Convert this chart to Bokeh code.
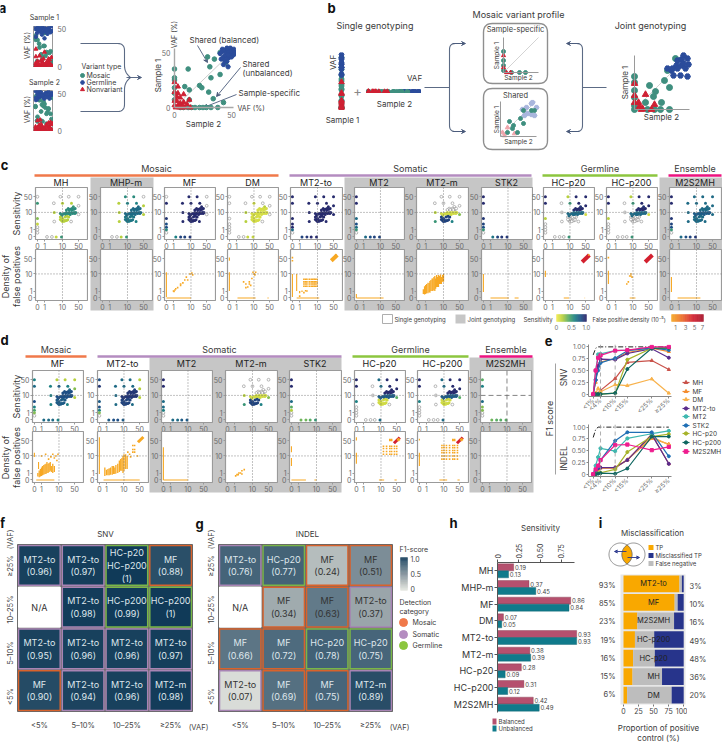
import numpy as np
from bokeh.core.properties import value
from bokeh.embed import file_html
from bokeh.layouts import column
from bokeh.models import (Arrow, ColumnDataSource, FactorRange, FixedTicker, LinearColorMapper, Range1d, Span, VeeHead)
from bokeh.plotting import figure
from bokeh.resources import INLINE
from bokeh.transform import dodge

FONT = "Inter"
INK = "#3a3a3a"
TICK = "#6b6b6b"
FRAME = "#9a9a9a"
C_MOS, C_GER, C_NON = "#3f8f7f", "#2b4c9b", "#cf2033"
ORANGE, PURPLE, GREEN, PINK = "#f0794a", "#b48cc0", "#8cc63f", "#ec1380"
SENS_COLS = ["#f2ea4e", "#b5cf3e", "#58ad66", "#1f8284", "#1e5287", "#2b1f66"]
FP_COLS = ["#f9d24a", "#f7a823", "#ec6a2a", "#d3202f", "#a5122a"]

# ---------- panel a data: (sample 2 VAF, sample 1 VAF) ----------
a_mos_x = [0,0,0,0,0,0,12,9,13,29,31,32,40,22,30,13,24,34,43,40,45,35,5,8,12,15,18,22,25,28,32,38]
a_mos_y = [35,27,25,18,13,7,35,19,16,46,37,27,30,20,14,7,18,8,4.5,50,41,44,0,0,0,0,0,0,0,0,0,0]
a_ger_x = [40,42,44,45,46,47,48,49,50,51,52,43,45,47,49,41,44,46,48,50,43,47,52,42,46,49,53,47]
a_ger_y = [49,51,52,48,50,53,51,49,52,50,53,46,47,45,46,44,43,42,47,46,39,37,48,53,54,54,50,48]
a_non_x = [0,3,0,5,2,8,13,8,3,0,5,2,7,11,0,1,4,6,9,14,3]
a_non_y = [23,19,14,9,6,12,7,5,2,6,4,10,2,3,2,0,0,0,0,0,13]

# ---------- panel b data ----------
b_mos_x = [0,0,0,0,0,15,21,30,35,33,41,11,19,27,26,35,13,20,0]
b_mos_y = [33,27,19,12,4,24,18,29,22,39,51,7,13,7,0,0,0,0,0]
b_ger_x = [49,43,47,53,54,42,47,51,33,37,39,46,53,38,49,43]
b_ger_y = [54,49,50,51,45,44,44,41,41,39,34,34,33,41,46,41]
b_non_x = [0,0,0,11,5,8,20,4,17,7]
b_non_y = [26,14,7,15,3,1,5,7,0,0]
b1_mos_x = [0,0,0,0,8,16,22]
b1_mos_y = [21,12,7,2,0,0,0]
b1_non_x = [0,0,3,7]
b1_non_y = [17,5,0,0]
b2_mos_x = [7,12,17,13,20,23,9,31,34,23]
b2_mos_y = [4,8,4,11,18,13,15,26,26,26]
b2_ger_x = [22,26,31,32,36,34,31,27,24]
b2_ger_y = [27,29,33,34,29,21,22,23,21]
b2_non_x = [7,2,4,14]
b2_non_y = [9,4,1,3]

# ---------- sensitivity truth set (VAF sample 2, VAF sample 1) ----------
L_y = [50, 26, 5, 2.5, 1.6, 1, 0.5]
B_x = [1.5, 3, 5, 9]
U_x = [8, 19, 50, 3.8, 10, 25, 50, 4, 30, 50, 4, 24]
U_y = [50, 50, 50, 26, 26, 26, 20, 10, 18, 8, 3.5, 3.5]
Ct_x = [18, 22, 26, 32, 15, 27, 20, 36]
Ct_y = [15, 14, 15, 14, 13, 13, 13, 15]
Ch_x = [8, 10, 12, 14, 15, 18, 20, 22, 25, 28, 32, 38, 16, 35, 9]
Ch_y = [9, 8, 9, 8, 10, 9, 10, 8, 10, 9, 10, 10, 8, 9, 7]
Cl_x = [8, 10, 13, 9, 11, 13, 15, 10, 12, 17, 19, 16, 8]
Cl_y = [6, 5, 6, 4, 4, 4, 4, 3.5, 3.6, 4.3, 6, 6.5, 4.5]

# Sensitivity per variant group: L, B, U, then Ct/Ch/Cl (0 = missed; None = not drawn)
c_sens = {
 "MH":      ([0,.5,.3,.15,0,0,0], [0,0,.15,.5], [0,0,0,0,.2,.2,0,.2,.5,0,0,0], (.55,.55,.2)),
 "MHP-m":   ([], [0,0,.2,.5], [.55,.55,0,.2,.6,.6,.2,.2,.7,.2,.2,.6], (.7,.7,.65)),
 "MF":      ([0,.95,.9,.8,.8,.55,0], [.6,.85,.85,.9], [.95,.95,0,.95,.95,.95,0,.95,.95,0,.95,.95], (.95,.95,.95)),
 "DM":      ([0,0,0,0,0,0,0], [0,0,.15,.15], [0,0,0,0,.15,0,0,.2,.2,0,.2,0], (.1,.1,.1)),
 "MT2-to":  ([.95,.95,.95,.95,.95,.7,0], [.85,.9,.95,.95], [.95]*12, (.95,.95,.95)),
 "MT2":     ([.95,.95,.7,.8,.7,.5,0], [.7,.8,.85,.85], [], (None,None,None)),
 "MT2-m":   ([], [], [0,0,0,0,0,0,0,.2,0,.3,.5,.6], (0,.12,.85)),
 "STK2":    ([.95,.95,.9,.85,.8,.5,0], [.65,.85,.9,.9], [], (None,None,None)),
 "HC-p20":  ([.95,.95,.2,0,0,0,0], [0,0,0,.5], [.2,.95,.95,0,.5,.95,.95,0,.9,.1,0,0], (.95,.7,0)),
 "HC-p200": ([.95,.95,.2,0,0,0,0], [0,0,0,.5], [.2,.95,.95,0,.5,.95,.95,0,.9,.1,0,0], (.95,.7,0)),
 "M2S2MH":  ([.95,.95,.9,.85,.8,.5,0], [.7,.8,.85,.9], [.7]*12, (.7,.75,.7)),
}
d_sens = {
 "MF":      ([.6,.7,.8,.6,.45,.3,0], [.7,.7,.7,.6], [.2,.2,.2,.6,.75,.6,.3,.6,.7,.2,.6,.6], (.8,.8,.75)),
 "MT2-to":  ([.8,.9,.75,.8,.6,.3,0], [.75,.8,.8,.75], [.7,.7,.2,.7,.7,.7,.2,.7,.85,.2,.7,.7], (.9,.9,.85)),
 "MT2":     ([.95,.95,.7,.7,.6,0,0], [.7,.7,.75,.75], [], (None,None,None)),
 "MT2-m":   ([], [], [0,0,0,0,0,0,0,.2,0,.3,.5,.6], (0,.12,.85)),
 "STK2":    ([.95,.95,.7,.4,.2,0,0], [.35,.35,.4,.5], [], (None,None,None)),
 "HC-p20":  ([.95,.95,.6,0,0,0,0], [0,0,0,.7], [.7,.95,.95,0,.7,.95,.95,0,.95,.4,0,0], (.95,.75,.12)),
 "HC-p200": ([.95,.95,.6,0,0,0,0], [0,0,0,.7], [.7,.95,.95,0,.7,.95,.95,0,.95,.4,0,0], (.95,.75,.12)),
 "M2S2MH":  ([.4,.6,.7,.3,.3,0,0], [.35,.4,.4,.4], [], (None,None,None)),
}

# ---------- false positive marks ----------
# h: (y, x0, x1), v: (x, y0, y1), d: (v0, v1, colour level, width), s: streak (x, y0, y1), p: points
c_fp = {
 "MH": dict(),
 "MHP-m": dict(),
 "MF": dict(h=[(0,0,10)], v=[(0,0.1,12)], p=[(1,1),(1.3,1.2),(2,1.8),(1.5,1.5),(3,3),(4,3.5),(5,5),(6,7),(7,5),(9,10),(11,11),(12,9),(3,2.5),(1.1,.9)]),
 "DM": dict(h=[(0,1.2,12),(0,40,45)], v=[(0,1,12),(0,40,55)], p=[(4,3),(6,3),(5,2),(3,4),(8,6),(10,10),(11,9),(12,12),(9,12),(7,2.5),(6,4),(4,1.8)]),
 "MT2-to": dict(h=[(0,.5,12)], v=[(0,.1,10),(.5,1,10)], d=[(40,72,1,4)],
   s=[(1,.6,1),(1.5,.8,1.1),(2.5,.9,1.2)],
   p=[(x,y) for x in [2,2.5,3,4,5,6,7,8,9.5] for y in [2.2,3,4,5.5]]+[(0,40),(0,55),(2,.7),(3,1),(62,72),(1,.2)]),
 "MT2": dict(h=[(0,0,14)], v=[(0,0,.5)]),
 "MT2-m": dict(s=[(.6,.5,1.4),(.8,.4,2.2),(1,.5,2.6),(1.2,.6,3),(1.5,.6,3.6),(1.8,.8,3.5),(2,.7,4.5),(2.3,1,5),(2.7,1,6),(3,1,6),(3.4,1.2,7),(3.8,1,8),(4.2,1.5,6),(4.7,2,9),(5.2,2,7),(5.8,2,9),(6.5,3,8),(7.2,3,9.5),(8,3,7),(9,4,9),(10,4,10)]),
 "STK2": dict(h=[(0,1,11),(0,20,30)], v=[(0,.8,10)]),
 "HC-p20": dict(h=[(0,5,9),(0,45,47)], v=[(0,7,14)], d=[(35,72,3,4)], p=[(68,72)]),
 "HC-p200": dict(h=[(0,7,13)], v=[(0,3,14)], d=[(35,72,3,4)], p=[(7,8),(8,10),(9,7),(6,4),(5,3),(8,8),(0,55)]),
 "M2S2MH": dict(h=[(0,.8,15)], v=[(0,.8,7)]),
}
d_fp = {
 "MF": dict(h=[(0,.2,6)], s=[(.4,.4,1),(.6,.3,1.6),(.8,.4,2),(1,.5,2.5),(1.2,.6,3),(1.5,.7,3.5),(1.8,.8,3.8),(2.1,.8,4),(2.4,1,5),(2.8,1,4),(3.2,1.2,4.5),(3.7,1.5,5),(4.2,1.2,3),(5,1,4),(6,1.2,3)],
   v=[(0,9,14),(.5,2,5)], p=[(1,10),(2,12),(4,9),(5,12),(7,10),(9,12),(6,8),(3,7),(8,6)]),
 "MT2-to": dict(h=[(0,.5,50)], v=[(0,.8,70)], d=[(42,72,1,3)],
   s=[(.7,.5,2.5),(1,.6,1.8),(1.3,.6,2),(1.6,.6,2.2),(2,.7,2.5),(2.5,.7,3),(3,.8,3),(3.5,.8,2.5),(4,.9,3.5),(5,1,4),(6,1.2,6),(7,1.5,7),(8,1.5,8),(9,1,10),(10,1.5,12),(12,2,12),(14,2,10)],
   p=[(25,15),(30,15),(25,20),(30,20),(25,30),(30,30),(18,12),(20,9),(15,15),(40,10)]),
 "MT2": dict(h=[(0,0,10)], v=[(0,0,25)]),
 "MT2-m": dict(p=[(1.5,.7),(2,1),(2.5,1),(3,.8),(3,1.5),(1.2,.5),(1.8,.7),(4,1.8)]),
 "STK2": dict(h=[(0,0,3),(0,8,10)], v=[(0,3,8),(0,15,28)]),
 "HC-p20": dict(h=[(0,8,14),(0,40,50)], v=[(0,4,14),(0,50,70)], d=[(38,68,3,3)],
   p=[(x,y) for x in [13,18,25,30,40,50] for y in [12,16,22,28]]+[(25,55),(30,55),(25,50),(30,50),(28,52),(55,55),(60,60),(65,55),(60,50)]),
 "HC-p200": dict(h=[(0,6,14),(0,40,50)], v=[(0,3,14),(0,50,60)], d=[(38,68,3,3)],
   p=[(x,y) for x in [8,10,13,18,25,30,40] for y in [7,10,14,18,24,30]]+[(25,55),(30,55),(25,50),(30,50),(28,52),(55,55),(60,60),(65,55),(60,50)]),
 "M2S2MH": dict(),
}

# ---------- panel e ----------
e_ticks = [1, 4, 10, 15, 25, 32]
e_labels = ["<1%", "<4%", "<10%", "<15%", "<25%", "≥25%"]
e_x = [1, 2, 3, 4, 10, 15, 25, 32]
e_names = ["MH", "MF", "DM", "MT2-to", "MT2", "STK2", "HC-p20", "HC-p200", "M2S2MH"]
e_cols = ["#c9524a", "#f48c2d", "#f8b24c", "#5b2c8c", "#3fb8b0", "#1f6fb5", "#a7b32a", "#0e6660", "#ee1c8e"]
e_mark = ["triangle", "triangle", "triangle", "hex", "circle", "hex", "hex", "hex", "square"]
snv = dict(zip(e_names, [
 [0,0,.01,.08,.33,.67,.71,.52], [0,.25,.6,.68,.75,.88,.97,.90], [0,.02,.12,.05,.2,.18,.32,.02],
 [0,.3,.6,.74,.73,.86,.96,.77], [0,.5,.84,.85,.92,.93,.97,.97], [0,.3,.5,.66,.76,.92,.98,.93],
 [0,0,0,0,.02,.73,.97,.98], [0,0,0,0,.02,.53,.97,.98], [0,.5,.77,.82,.92,.93,1,1]]))
indel = dict(zip(e_names, [
 [0,.02,.12,.13,.14,.30,.85,.22], [0,.02,.1,.14,.13,.31,.76,.64], [0,.01,.1,.13,.14,.3,.8,.62],
 [0,.02,.12,.14,.14,.30,.84,.22], [0,.18,.36,.55,.49,.76,.86,.92], [0,.05,.15,.3,.71,.89,.89,.38],
 [0,0,.02,.03,.1,.47,.80,.85], [0,0,.01,.02,.01,.12,.80,.80], [0,.1,.18,.3,.62,.63,.51,.58]]))
ideal_x = [1, 2, 3, 4, 10, 15, 25, 32]
ideal_snv = [.83, .97, 1, 1, 1, 1, 1, 1]
ideal_indel = [.78, .95, 1, 1, 1, 1, 1, 1]

# ---------- panels f, g ----------
vaf_bins = ["<5%", "5–10%", "10–25%", "≥25%"]
f_tool = [["MF","MT2-to","MT2-to","MT2-m"],["MT2-to","MT2-to","MT2-to","MT2-to"],["N/A","MT2-to","HC-p200","HC-p200"],["MT2-to","MT2-to","HC-p20\nHC-p200","MF"]]
f_val = [[.90,.94,.96,.98],[.95,.96,.96,.97],[None,.98,.99,1],[.96,.97,1,.88]]
f_lbl = [["0.90","0.94","0.96","0.98"],["0.95","0.96","0.96","0.97"],["","0.98","0.99","1"],["0.96","0.97","1","0.88"]]
f_cat = [["m","s","s","s"],["s","s","s","s"],["n","s","g","g"],["s","s","g","m"]]
g_tool = [["MT2-to","MF","MF","MT2-m"],["MF","MF","HC-p20","HC-p20"],["N/A","MF","MF","MT2-to"],["MT2-to","HC-p20","MF","MF"]]
g_val = [[.07,.69,.75,.89],[.66,.72,.78,.75],[None,.34,.63,.37],[.76,.77,.24,.51]]
g_lbl = [["0.07","0.69","0.75","0.89"],["0.66","0.72","0.78","0.75"],["","0.34","0.63","0.37"],["0.76","0.77","0.24","0.51"]]
g_cat = [["s","m","m","s"],["m","m","g","g"],["n","m","m","s"],["s","g","m","m"]]
CAT_COL = {"m": "#d9622b", "s": "#a884b4", "g": "#7ab648", "n": "#ffffff"}

# ---------- panel h ----------
h_tools = ["MH", "MHP-m", "MF", "DM", "MT2-to", "MT2-m", "HC-p20", "HC-p200", "M2S2MH"]
h_bal = [.19, .37, .86, .07, .93, .38, .28, .31, .42]
h_unb = [.13, .45, .84, .05, .93, .39, .09, .12, .49]

# ---------- panel i ----------
i_tools = ["MT2-to", "MF", "M2S2MH", "HC-p200", "HC-p20", "MH", "DM"]
i_tp = [93, 85, 23, 19, 16, 15, 6]
i_fn = [4, 5, 61, 32, 36, 49, 74]
i_mis = [3, 10, 16, 49, 48, 36, 20]

# =====================================================================
figs = []


def place(p, left, top):
    p.styles = {"position": "absolute", "left": f"{left}px", "top": f"{top}px"}
    p.frame_align = False
    figs.append(p)
    return p


def lg(v):
    return np.log10(1 + np.asarray(v, dtype=float))


def lg1(v):
    return [float(lg(v))]


def mk(x0, x1, y0, y1, xr, yr, ml=0, mr=0, mt=0, mb=0, bg=None, **kw):
    p = figure(width=int(x1 - x0 + ml + mr), height=int(y1 - y0 + mt + mb), x_range=xr, y_range=yr,
               min_border_left=ml, min_border_right=mr, min_border_top=mt, min_border_bottom=mb,
               output_backend="svg", toolbar_location=None, **kw)
    p.border_fill_color = None
    p.background_fill_color = bg
    p.grid.visible = False
    p.outline_line_color = None
    place(p, x0 - ml, y0 - mt)
    return p


bg = figure(width=722, height=743, x_range=Range1d(0, 722), y_range=Range1d(743, 0), min_border=0,
            output_backend="svg", toolbar_location=None, x_axis_type=None, y_axis_type=None)
bg.grid.visible = False
bg.outline_line_color = None
bg.border_fill_color = None
bg.background_fill_color = None
place(bg, 0, 0)


def tx(x, y, s, size=8, color=INK, align="left", angle=0, bold=False):
    bg.text(x=[x], y=[y], text=[s], text_font=value(FONT), text_font_size=f"{size}px", text_color=color,
            text_align=align, text_baseline="middle", angle=angle,
            text_font_style="bold" if bold else "normal")


def rpath(pts, r, n=8):
    out = [pts[0]]
    for a, b, c in zip(pts, pts[1:], pts[2:]):
        a, b, c = map(lambda q: np.array(q, float), (a, b, c))
        u = (a - b) / max(np.linalg.norm(a - b), 1e-6)
        w = (c - b) / max(np.linalg.norm(c - b), 1e-6)
        s = b + u * r
        e = b + w * r
        for t in np.linspace(0, 1, n):
            out.append(tuple((1 - t) ** 2 * s + 2 * t * (1 - t) * b + t * t * e))
    out.append(pts[-1])
    return [float(q[0]) for q in out], [float(q[1]) for q in out]


def pline(pts, r=5, color="#5c6b85", width=1.1):
    xs, ys = rpath(pts, r)
    bg.line(xs, ys, line_color=color, line_width=width)


def arrow(x0, y0, x1, y1, color="#4a5a7a", size=4, width=0.9):
    bg.add_layout(Arrow(end=VeeHead(size=size, line_color=color, line_width=width, fill_color=color),
                        x_start=x0, y_start=y0, x_end=x1, y_end=y1, line_color=color, line_width=width))


def grad(x0, x1, y0, y1, cols, vertical=False, n=40):
    t = np.linspace(0, 1, n + 1)
    idx = np.linspace(0, 1, len(cols))
    rgb = np.array([[int(c[i:i + 2], 16) for i in (1, 3, 5)] for c in cols], float)
    cc = ["#%02x%02x%02x" % tuple(int(np.interp(v, idx, rgb[:, k])) for k in range(3)) for v in t[:-1]]
    if vertical:
        bg.quad(left=[x0] * n, right=[x1] * n, top=y1 - t[:-1] * (y1 - y0), bottom=y1 - t[1:] * (y1 - y0), fill_color=cc, line_color=cc, line_width=0.3)
    else:
        bg.quad(left=x0 + t[:-1] * (x1 - x0), right=x0 + t[1:] * (x1 - x0), top=[y0] * n, bottom=[y1] * n, fill_color=cc, line_color=cc, line_width=0.3)


# --------------------- panel letters ---------------------
for s, x, y in [("a", 2, 7), ("b", 331, 7), ("c", 4, 164), ("d", 4, 339), ("e", 548, 340), ("f", 2, 522), ("g", 199, 523), ("h", 453, 522), ("i", 600, 522)]:
    tx(x, y, s, 13, "#111111", "center", bold=True)

# --------------------- panel a ---------------------
jit = [.12, .55, .3, .8, .45, .9, .2, .65, .38, .75, .1, .5, .28, .85, .6, .18, .7, .42, .95, .33]


def strip(y0, y1, vm, vg, vn):
    p = mk(33, 53, y0, y1, Range1d(0, 1), Range1d(-1.3, 52.6), bg="white")
    p.axis.visible = False
    p.outline_line_color = FRAME
    for vals, col, mrk, sz in [(vm, C_MOS, "circle", 3.8), (vg, C_GER, "hex", 3.8), (vn, C_NON, "triangle", 4)]:
        xx = [jit[i % len(jit)] for i in range(len(vals))]
        p.scatter(xx, vals, marker=mrk, size=sz, fill_color=col, line_color=col)
    return p


strip(26, 67, a_mos_y, a_ger_y, a_non_y + [2, 1, 3, 0.5, 1.5, 4, 5, 8, 10, 1, 3])
strip(90, 131, a_mos_x, a_ger_x, a_non_x + [2, 1, 3, 0.5, 1.5, 4, 6, 8, 10, 1, 3])
tx(44, 17, "Sample 1", 7, align="center")
tx(44, 82, "Sample 2", 7, align="center")
for y in (45, 109):
    tx(27, y, "VAF (%)", 7, angle=np.pi / 2, align="center")
for y, s in [(28, "50"), (66, "0"), (93, "50"), (130, "0")]:
    tx(57, y, s, 7, TICK)
tx(81, 66, "Variant type", 7)
for y, s, col, m in [(75, "Mosaic", C_MOS, "circle"), (82, "Germline", C_GER, "hex"), (89, "Nonvariant", C_NON, "triangle")]:
    bg.scatter([82], [y], marker=m, size=4, fill_color=col, line_color=col)
    tx(86, y, s, 7)
pline([(80, 43), (124, 43), (124, 72), (130, 77)], 7)
pline([(80, 111), (124, 111), (124, 82), (130, 77)], 7)
arrow(126, 77, 141, 77)


def mini(x0, x1, y0, y1, ox, oy, scale=1.0, xmax=None, ymax=None, lw=1.0, col="#9a9a9a"):
    p = mk(x0, x1, y0, y1, Range1d((x0 - ox) / scale, (x1 - ox) / scale), Range1d((oy - y1) / scale, (oy - y0) / scale))
    p.xaxis.fixed_location = 0
    p.yaxis.fixed_location = 0
    for ax, top in ((p.xaxis[0], xmax), (p.yaxis[0], ymax)):
        ax.ticker = FixedTicker(ticks=[])
        ax.axis_line_color = col
        ax.axis_line_width = lw
        ax.major_label_text_font_size = "0px"
        ax.bounds = (0, top)
    return p


pa = mk(168, 236, 30, 113, Range1d(-5.26, 54.4), Range1d(-5.45, 70))
pa.xaxis.fixed_location = 0
pa.yaxis.fixed_location = 0
for ax, top in [(pa.xaxis[0], 52), (pa.yaxis[0], 54)]:
    ax.ticker = FixedTicker(ticks=[])
    ax.bounds = (0, top)
    ax.axis_line_color = "#a8a8a8"
    ax.axis_line_width = 1.4
    ax.major_label_text_font_size = "0px"
pa.line([0, 50], [0, 50], line_color="#cccccc", line_width=1)
pa.scatter(a_mos_x, a_mos_y, marker="circle", size=4.6, fill_color=C_MOS, line_color=C_MOS)
pa.scatter(a_ger_x, a_ger_y, marker="hex", size=4.6, fill_color=C_GER, line_color=C_GER)
pa.scatter(a_non_x, a_non_y, marker="triangle", size=5, fill_color=C_NON, line_color=C_NON)
for x, y, s, al in [(170, 52, "50", "right"), (170, 107, "0", "right"), (174, 114, "0", "center"), (231, 114, "50", "center")]:
    tx(x, y, s, 7, TICK, al)
tx(174, 34, "VAF (%)", 7, angle=np.pi / 2, align="center")
tx(157, 75, "Sample 1", 8, angle=np.pi / 2, align="center")
tx(203, 123, "Sample 2", 8, align="center")
tx(237, 108, "VAF (%)", 7)
tx(189, 39, "Shared (balanced)", 8)
tx(242, 63, "Shared", 8)
tx(242, 72, "(unbalanced)", 8)
tx(238, 92, "Sample-specific", 8)
arrow(197, 45, 207, 62)
arrow(240, 67, 216, 96)
arrow(236, 94, 203, 107)

# --------------------- panel b ---------------------
tx(336, 25, "Single genotyping", 9)
tx(518, 14, "Mosaic variant profile", 9, align="center")
tx(650, 25, "Joint genotyping", 9, align="center")
for y0, y1 in [(23, 83), (88, 149)]:
    xs, ys = rpath([(495, y0), (547, y0), (547, y1), (483, y1), (483, y0), (495, y0)], 9)
    bg.line(xs, ys, line_color="#8f8f8f", line_width=1.4)
pv = mk(336, 346, 52, 110, Range1d(-1, 1), Range1d(-3, 56))
pv.axis.visible = False
ph = mk(366, 421, 84, 93, Range1d(-2, 56), Range1d(-1, 1))
ph.axis.visible = False
for vals, col, mrk, sz in [(b_mos_y, C_MOS, "circle", 5), (b_ger_y, C_GER, "hex", 5), (b_non_y, C_NON, "triangle", 5.5)]:
    pv.scatter([0] * len(vals), vals, marker=mrk, size=sz, fill_color=col, line_color=col)
for vals, col, mrk, sz in [(b_ger_x, C_GER, "hex", 5), (b_mos_x, C_MOS, "circle", 5), (b_non_x, C_NON, "triangle", 5.5)]:
    ph.scatter(vals, [0] * len(vals), marker=mrk, size=sz, fill_color=col, line_color=col)
tx(332, 62, "VAF", 8, angle=np.pi / 2, align="center")
tx(342, 119, "Sample 1", 8, align="center")
tx(357, 90, "+", 13, "#888888", "center")
tx(414, 77, "VAF", 8, align="center")
tx(394, 103, "Sample 2", 8, align="center")
pline([(424, 87), (449, 87)], 5)
pline([(464, 43), (449, 43), (449, 131), (464, 131)], 6)
arrow(452, 43, 465, 43)
arrow(452, 131, 465, 131)
pline([(606, 87), (582, 87)], 5)
pline([(567, 43), (582, 43), (582, 131), (567, 131)], 6)
arrow(579, 43, 566, 43)
arrow(579, 131, 566, 131)

m1 = mini(500, 540, 35, 75, 503, 72, xmax=35, ymax=35)
m1.line([0, 35], [0, 35], line_color="#c8c8c8", line_width=0.8)
m1.scatter(b1_mos_x, b1_mos_y, marker="circle", size=4, fill_color=C_MOS, line_color=C_MOS)
m1.scatter(b1_non_x, b1_non_y, marker="triangle", size=4, fill_color=C_NON, line_color=C_NON)
m2 = mini(498, 540, 99, 139, 500, 136, xmax=36, ymax=35)
m2.line([0, 35], [0, 35], line_color="#c8c8c8", line_width=0.8)
m2.scatter(b2_non_x, b2_non_y, marker="triangle", size=4.5, fill_color="#eea4ab", line_color="#eea4ab")
m2.scatter(b2_ger_x, b2_ger_y, marker="hex", size=5, fill_color="#a9b6dd", line_color="#a9b6dd")
m2.scatter(b2_mos_x, b2_mos_y, marker="circle", size=4, fill_color=C_MOS, line_color=C_MOS)
tx(515, 29, "Sample-specific", 7.5, align="center")
tx(515, 95, "Shared", 7.5, align="center")
tx(496, 55, "Sample 1", 6.5, angle=np.pi / 2, align="center")
tx(496, 119, "Sample 1", 6.5, angle=np.pi / 2, align="center")
tx(518, 77, "Sample 2", 6.5, align="center")
tx(518, 141, "Sample 2", 6.5, align="center")
mj = mini(630, 692, 50, 113, 634, 109, xmax=55, ymax=54)
mj.line([0, 50], [0, 50], line_color="#c8c8c8", line_width=0.8)
mj.scatter(b_mos_x, b_mos_y, marker="circle", size=6, fill_color=C_MOS, line_color=C_MOS)
mj.scatter(b_ger_x, b_ger_y, marker="hex", size=6, fill_color=C_GER, line_color=C_GER)
mj.scatter(b_non_x, b_non_y, marker="triangle", size=6.5, fill_color=C_NON, line_color=C_NON)
tx(624, 82, "Sample 1", 8, angle=np.pi / 2, align="center")
tx(661, 116, "Sample 2", 8, align="center")

# --------------------- panels c and d ---------------------
sens_map = LinearColorMapper(palette=[
    "#%02x%02x%02x" % tuple(int(np.interp(t, np.linspace(0, 1, 6), [int(c[i:i + 2], 16) for c in SENS_COLS])) for i in (1, 3, 5))
    for t in np.linspace(0, 1, 64)], low=0, high=1)


def small(x0, x1, y0, y1, dash="1 2"):
    p = mk(x0, x1, y0, y1, Range1d(-0.08, 2.08), Range1d(-0.11, 2.1), ml=14, mr=1, mt=1, mb=11, bg="white")
    p.outline_line_color = FRAME
    p.outline_line_width = 1.2
    loc = [float(v) for v in lg([0, 1, 10, 50])]
    ov = dict(zip(loc, ["0", "1", "10", "50"]))
    for ax in (p.xaxis[0], p.yaxis[0]):
        ax.ticker = FixedTicker(ticks=loc)
        ax.major_label_overrides = ov
        ax.axis_line_color = None
        ax.major_tick_line_color = FRAME
        ax.major_tick_in = 0
        ax.major_tick_out = 2
        ax.minor_tick_line_color = None
        ax.major_label_standoff = 1
        ax.major_label_text_font = FONT
        ax.major_label_text_font_size = "7px"
        ax.major_label_text_color = TICK
    ten = float(lg(10))
    p.add_layout(Span(location=ten, dimension="width", line_color="#666666", line_dash=dash, line_width=0.8))
    p.add_layout(Span(location=ten, dimension="height", line_color="#666666", line_dash=dash, line_width=0.8))
    return p


def draw_sens(p, cfg):
    L, B, U, (ct, ch, cl) = cfg
    xs, ys, ss = [], [], []
    for i, s in enumerate(L):
        xs.append(0); ys.append(L_y[i]); ss.append(s)
    for i, s in enumerate(B):
        xs.append(B_x[i]); ys.append(0); ss.append(s)
    for i, s in enumerate(U):
        xs.append(U_x[i]); ys.append(U_y[i]); ss.append(s)
    for gx, gy, s in [(Ct_x, Ct_y, ct), (Ch_x, Ch_y, ch), (Cl_x, Cl_y, cl)]:
        if s is None:
            continue
        xs += gx; ys += gy; ss += [s] * len(gx)
    xs, ys, ss = lg(xs), lg(ys), np.array(ss, float)
    on = ss > 0
    p.scatter(xs[~on], ys[~on], marker="circle", size=2.8, fill_color="white", line_color="#8a8a8a", line_width=0.6)
    src = ColumnDataSource(dict(x=xs[on], y=ys[on], s=ss[on]))
    p.scatter("x", "y", source=src, marker="circle", size=3, line_color=None,
              fill_color={"field": "s", "transform": sens_map})


def draw_fp(p, cfg):
    o = FP_COLS[1]
    for y, a, b in cfg.get("h", []):
        p.segment(lg1(a), lg1(y), lg1(b), lg1(y), line_color=o, line_width=1.1)
    for x, a, b in cfg.get("v", []):
        p.segment(lg1(x), lg1(a), lg1(x), lg1(b), line_color=o, line_width=1.1)
    for a, b, lv, w in cfg.get("d", []):
        p.segment(lg1(a), lg1(a), lg1(b), lg1(b), line_color=FP_COLS[lv], line_width=w)
    for x, a, b in cfg.get("s", []):
        p.segment(lg1(x), lg1(a), lg1(x), lg1(b), line_color=o, line_width=1.3)
    pts = cfg.get("p", [])
    if pts:
        p.scatter(lg([q[0] for q in pts]), lg([q[1] for q in pts]), marker="square", size=1.6, fill_color=o, line_color=None)


# grey "joint genotyping" backgrounds
JOINT = "#c6c6c6"
bg.quad(left=[90, 344, 659, 149, 469], right=[153, 532, 722, 341, 533], top=[177, 177, 177, 357, 357], bottom=[310, 310, 310, 492, 492], fill_color=JOINT, line_color=None)

c_frames = {"MH": (34, 87), "MHP-m": (99, 152), "MF": (163, 215), "DM": (226, 278), "MT2-to": (289, 342),
            "MT2": (353, 404), "MT2-m": (415, 468), "STK2": (480, 532), "HC-p20": (542, 594), "HC-p200": (605, 657), "M2S2MH": (668, 721)}
d_frames = {"MF": (31, 83), "MT2-to": (96, 148), "MT2": (160, 212), "MT2-m": (224, 277), "STK2": (288, 341),
            "HC-p20": (353, 405), "HC-p200": (416, 468), "M2S2MH": (479, 531)}
for name, (x0, x1) in c_frames.items():
    tx((x0 + x1) / 2, 182, name, 9, "#222222", "center")
    draw_sens(small(x0, x1, 187, 240), c_sens[name])
    draw_fp(small(x0, x1, 249, 301), c_fp[name])
for name, (x0, x1) in d_frames.items():
    tx((x0 + x1) / 2, 363, name, 9, "#222222", "center")
    dash = "5 3" if name == "M2S2MH" else "1 2"
    draw_sens(small(x0, x1, 370, 423, dash), d_sens[name])
    draw_fp(small(x0, x1, 431, 483), d_fp[name])

for (x0, x1, y, col, s) in [(34, 278, 175, ORANGE, "Mosaic"), (289, 531, 175, PURPLE, "Somatic"), (542, 657, 175, GREEN, "Germline"), (668, 721, 175, PINK, "Ensemble"),
                            (25, 86, 356, ORANGE, "Mosaic"), (97, 341, 356, PURPLE, "Somatic"), (352, 468, 356, GREEN, "Germline"), (479, 532, 356, PINK, "Ensemble")]:
    bg.line([x0, x1], [y, y], line_color=col, line_width=2.4)
    tx((x0 + x1) / 2, y - 7.5, s, 9, INK, "center")

tx(16, 213, "Sensitivity", 9, angle=np.pi / 2, align="center")
tx(5, 276, "Density of", 9, angle=np.pi / 2, align="center")
tx(16, 276, "false positives", 9, angle=np.pi / 2, align="center")
tx(16, 396, "Sensitivity", 9, angle=np.pi / 2, align="center")
tx(5, 457, "Density of", 9, angle=np.pi / 2, align="center")
tx(16, 457, "false positives", 9, angle=np.pi / 2, align="center")

# legend between c and d
bg.quad(left=[382], right=[392], top=[314], bottom=[323], fill_color="white", line_color="#999999", line_width=0.8)
tx(394, 319, "Single genotyping", 6)
bg.quad(left=[455], right=[465], top=[314], bottom=[323], fill_color=JOINT, line_color=None)
tx(467, 319, "Joint genotyping", 6)
tx(523, 319, "Sensitivity", 6)
grad(556, 586, 314, 321, SENS_COLS)
for x, s in [(556, "0"), (571, "0.5"), (586, "1.0")]:
    tx(x, 327, s, 6, TICK, "center")
tx(592, 319, "False positive density (10⁻⁵)", 5.6)
grad(671, 703, 314, 321, FP_COLS[1:])
for x, s in [(675, "1"), (685, "3"), (694, "5"), (702, "7")]:
    tx(x, 327, s, 6, TICK, "center")

# --------------------- panel e ---------------------


def echart(y0, y1, yr, data, ideal):
    p = mk(588, 671, y0, y1, Range1d(-.93, 33.1), yr, ml=20, mr=1, mt=2, mb=18)
    p.yaxis.ticker = FixedTicker(ticks=[0, .25, .5, .75, 1])
    p.yaxis.major_label_overrides = {0: "0", .25: "0.25", .5: "0.50", .75: "0.75", 1: "1.00"}
    p.xaxis.ticker = FixedTicker(ticks=e_ticks)
    p.xaxis.major_label_overrides = dict(zip(e_ticks, e_labels))
    p.xaxis.major_label_orientation = np.pi / 4
    for ax in (p.xaxis[0], p.yaxis[0]):
        ax.axis_line_color = "#888888"
        ax.major_tick_line_color = "#888888"
        ax.major_tick_in = 0
        ax.major_tick_out = 2
        ax.minor_tick_line_color = None
        ax.major_label_standoff = 1
        ax.major_label_text_font = FONT
        ax.major_label_text_font_size = "6.5px"
        ax.major_label_text_color = TICK
    for v in (4, 10):
        p.add_layout(Span(location=v, dimension="height", line_color="#999999", line_dash="4 3", line_width=0.8))
    p.line(ideal_x, ideal, line_color="#222222", line_dash="5 2 1 2", line_width=1)
    for n, c, m in zip(e_names, e_cols, e_mark):
        p.line(e_x, data[n], line_color=c, line_width=1.2)
        p.scatter(e_x, data[n], marker=m, size=3.2, fill_color=c, line_color=c)


echart(344, 403, Range1d(-.05, 1.05), snv, ideal_snv)
echart(424, 483, Range1d(-.05, 1.056), indel, ideal_indel)
tx(549, 418, "F1 score", 9, angle=np.pi / 2, align="center")
tx(563, 377, "SNV", 8.5, angle=np.pi / 2, align="center")
tx(563, 458, "INDEL", 8.5, angle=np.pi / 2, align="center")
bg.line([555, 555], [363, 474], line_color="#8a8a8a", line_width=0.8)
for n, c, m, y in zip(e_names, e_cols, e_mark, [382, 391, 399, 408, 416, 425, 433, 442, 451]):
    bg.line([682, 689], [y, y], line_color=c, line_width=1.2)
    bg.scatter([685.5], [y], marker=m, size=3.6, fill_color=c, line_color=c)
    tx(692, y, n, 6.5)

# --------------------- panels f, g ---------------------
stops = ["#e6e8e2", "#b3bbbb", "#7f8f99", "#49677b", "#103a58"]
_idx = np.linspace(0, 1, 5)
heat_pal = ["#%02x%02x%02x" % tuple(int(np.interp(t, _idx, [int(c[i:i + 2], 16) for c in stops])) for i in (1, 3, 5)) for t in np.linspace(0, 1, 128)]
heat_map = LinearColorMapper(palette=heat_pal, low=0, high=1, nan_color="white")


def heat(x0, x1, tools, vals, lbls, cats):
    p = mk(x0, x1, 544, 718, FactorRange(factors=vaf_bins, range_padding=0, factor_padding=0),
           FactorRange(factors=vaf_bins, range_padding=0, factor_padding=0), ml=1, mb=14, mr=1, mt=1, bg="#6b6b6b")
    p.outline_line_color = "#666666"
    p.yaxis.visible = False
    ax = p.xaxis[0]
    ax.axis_line_color = None
    ax.major_tick_line_color = None
    ax.minor_tick_line_color = None
    ax.major_label_standoff = 3
    ax.major_label_text_font = FONT
    ax.major_label_text_font_size = "7.5px"
    ax.major_label_text_color = "#444444"
    xs, ys, vv, lc, txt, tc = [], [], [], [], [], []
    for r, yb in enumerate(vaf_bins):
        for c, xb in enumerate(vaf_bins):
            v = vals[r][c]
            xs.append(xb); ys.append(yb)
            vv.append(np.nan if v is None else v)
            lc.append(CAT_COL[cats[r][c]])
            txt.append(tools[r][c] if v is None else f"{tools[r][c]}\n({lbls[r][c]})")
            tc.append("#333333" if (v is None or v < .65) else "#dfe7ec")
    src = ColumnDataSource(dict(x=xs, y=ys, v=vv, lc=lc, t=txt, tc=tc))
    p.rect("x", "y", width=.95, height=.95, source=src, fill_color={"field": "v", "transform": heat_map}, line_color="lc", line_width=1.4)
    p.text("x", "y", text="t", source=src, text_color="tc", text_align="center", text_baseline="middle",
           text_font=value(FONT), text_font_size="9px", text_line_height=1.15)
    for i, b in enumerate(vaf_bins):
        tx(x0 - 7, 696 - i * 43.5, b, 7.5, "#444444", "center", np.pi / 2)
    return p


heat(17, 192, f_tool, f_val, f_lbl, f_cat)
heat(218, 392, g_tool, g_val, g_lbl, g_cat)
tx(105, 533, "SNV", 8, align="center")
tx(307, 533, "INDEL", 8, align="center")
tx(10, 539, "(VAF)", 7.5, "#444444", "center", np.pi / 2)
tx(211, 539, "(VAF)", 7.5, "#444444", "center", np.pi / 2)
tx(198, 727, "(VAF)", 7.5, "#444444", "center")
tx(399, 727, "(VAF)", 7.5, "#444444", "center")
tx(399, 549, "F1-score", 7)
grad(400, 407, 557, 590, stops, vertical=True)
for y, s in [(558, "1.0"), (573, "0.5"), (588, "0")]:
    tx(410, y, s, 7, "#444444")
tx(399, 602, "Detection", 7)
tx(399, 611, "category", 7)
for y, s, c in [(622, "Mosaic", ORANGE), (634, "Somatic", PURPLE), (645, "Germline", GREEN)]:
    bg.scatter([403], [y], marker="circle", size=8, fill_color=c, line_color=c)
    tx(412, y, s, 7)

# --------------------- panel h ---------------------
ph2 = mk(492, 592, 558, 712, Range1d(0, 100 / 89.6), FactorRange(factors=h_tools[::-1], range_padding=0, factor_padding=0),
         ml=42, mt=18, mb=1, mr=1, x_axis_location="above")
ph2.xaxis.ticker = FixedTicker(ticks=[0, .25, .5, .75])
ph2.xaxis.major_label_overrides = {0: "0", .25: "0.25", .5: "0.50", .75: "0.75"}
ph2.xaxis.major_label_orientation = np.pi / 2
ph2.xaxis.bounds = (0, .904)
for ax, sz in [(ph2.xaxis[0], "7px"), (ph2.yaxis[0], "9px")]:
    ax.axis_line_color = "#555555"
    ax.major_tick_line_color = "#555555"
    ax.major_tick_in = 0
    ax.major_tick_out = 3
    ax.minor_tick_line_color = None
    ax.major_label_standoff = 1
    ax.major_label_text_font = FONT
    ax.major_label_text_font_size = sz
    ax.major_label_text_color = "#333333"
hsrc = ColumnDataSource(dict(t=h_tools, b=h_bal, u=h_unb, bl=[f"{v:.2f}" for v in h_bal], ul=[f"{v:.2f}" for v in h_unb]))
C_BAL, C_UNB = "#b5506e", "#107a8b"
ph2.hbar(y=dodge("t", .21, range=ph2.y_range), right="b", height=.42, left=0, source=hsrc, fill_color=C_BAL, line_color="#7d3a4e", line_width=.4)
ph2.hbar(y=dodge("t", -.21, range=ph2.y_range), right="u", height=.42, left=0, source=hsrc, fill_color=C_UNB, line_color="#0d5f6d", line_width=.4)
hb = ColumnDataSource(dict(x=[v + .015 for v in h_bal], t=h_tools, s=hsrc.data["bl"]))
hu = ColumnDataSource(dict(x=[v + .015 for v in h_unb], t=h_tools, s=hsrc.data["ul"]))
for src, off in [(hb, .21), (hu, -.21)]:
    ph2.text("x", dodge("t", off, range=ph2.y_range), text="s", source=src, text_font=value(FONT), text_font_size="6px",
             text_color="#444444", text_baseline="middle")
tx(540, 527, "Sensitivity", 8, align="center")
for y, c, s in [(721, C_BAL, "Balanced"), (728, C_UNB, "Unbalanced")]:
    bg.quad(left=[492], right=[496], top=[y - 3], bottom=[y + 3], fill_color=c, line_color=None)
    tx(498, y, s, 6)

# --------------------- panel i ---------------------
tx(652, 532, "Misclassification", 8, align="center")
th = np.linspace(0, 2 * np.pi, 80)
for cx in (620, 633):
    bg.line(cx + 11.5 * np.cos(th), 554 + 11.5 * np.sin(th), line_color="#777777", line_width=.8)
a = np.arccos(6.5 / 11.5)
t1 = np.linspace(-a, a, 20)
bg.patch(np.r_[620 + 11.5 * np.cos(t1), (633 - 11.5 * np.cos(t1))[::-1]],
         np.r_[554 + 11.5 * np.sin(t1), (554 + 11.5 * np.sin(t1))[::-1]], fill_color="#f9a800", line_color="#555555", line_width=.5)
arrow(626, 551, 614, 551, "#27348b", 3, .9)
arrow(627, 557, 639, 557, "#27348b", 3, .9)
for y, c, s in [(547, "#f9a800", "TP"), (555, "#27348b", "Misclassified TP"), (563, "#bdbdbd", "False negative")]:
    bg.quad(left=[648], right=[653], top=[y - 2.5], bottom=[y + 2.5], fill_color=c, line_color=None)
    tx(655, y, s, 6)

pi_ = mk(620, 685, 574, 704, Range1d(-5, 103), FactorRange(factors=i_tools[::-1], range_padding=0, factor_padding=0), mb=12, mt=1, mr=2, ml=1, bg="#e6e6e6")
pi_.yaxis.visible = False
pi_.xaxis.ticker = FixedTicker(ticks=[0, 25, 50, 75, 100])
ax = pi_.xaxis[0]
ax.axis_line_color = None
ax.major_tick_line_color = "#777777"
ax.major_tick_in = 0
ax.major_tick_out = 2
ax.minor_tick_line_color = None
ax.major_label_standoff = 1
ax.major_label_text_font = FONT
ax.major_label_text_font_size = "7px"
ax.major_label_text_color = "#444444"
tp, fn, mis = map(np.array, (i_tp, i_fn, i_mis))
pi_.hbar(y=i_tools, left=[0] * 7, right=tp, height=.9, fill_color="#f9a800", line_color=None)
pi_.hbar(y=i_tools, left=tp, right=tp + fn, height=.9, fill_color="#bdbdbd", line_color=None)
pi_.hbar(y=i_tools, left=tp + fn, right=tp + fn + mis, height=.9, fill_color="#27348b", line_color=None)
pi_.text(x=[50] * 7, y=i_tools, text=i_tools, text_align="center", text_baseline="middle", text_font=value(FONT),
         text_font_size="7.5px", text_color="#222222")
for i, (a_, b_) in enumerate(zip(i_tp, i_mis)):
    y = 585 + i * 18.2
    tx(615, y, f"{a_}%", 7.5, "#444444", "right")
    tx(689, y + 1, f"{b_}%", 7.5, "#444444")
tx(658, 727, "Proportion of positive", 8, align="center")
tx(658, 737, "control (%)", 8, align="center")

page = column(*figs, width=722, height=743, styles={"position": "absolute", "left": "0px", "top": "0px"})
open("out.html", "w").write(file_html(page, INLINE))
